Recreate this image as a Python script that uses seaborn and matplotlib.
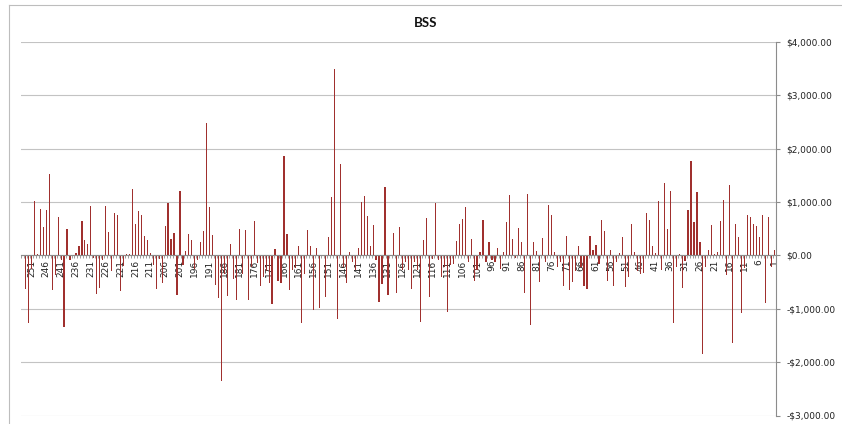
import matplotlib
matplotlib.use("Agg")
import matplotlib.pyplot as plt
from matplotlib.ticker import FuncFormatter, MultipleLocator, FixedLocator
from matplotlib.lines import Line2D
import numpy as np
import pandas as pd
import seaborn as sns

# Periods 1..254 and the BSS value of each period
periods = list(range(1, 255))
bss = [
    95, -210, 722, -887, 760, 344, 553, 597, 722, 760,            # 1-10
    -240, -1087, 344, 597, -1650, 1315, -370, 1035, 650, 56,      # 11-20
    25, 575, 100, -212, -1850, 250, 1194, 625, 1775, 850,         # 21-30
    -100, -619, 25, -212, -1263, 1206, 500, 1350, -275, 1019,     # 31-40
    50, 175, 656, 794, -337, -356, -287, 69, 587, -412,           # 41-50
    -587, 337, 37, -131, -569, 94, -475, 450, 662, -162,          # 51-60
    187, 94, 362, -631, -569, -212, 175, -300, -494, -644,        # 61-70
    362, -569, -119, -212, 62, 756, 937, -131, 325, -494,         # 71-80
    81, 250, -1312, 1150, -700, 250, 512, -56, 312, 1131,         # 81-90
    619, 62, -250, 137, -131, -90, 250, -119, 656, 62,            # 91-100
    -275, -481, 306, -119, 906, 675, 594, 269, -162, -180,        # 101-110
    -1056, -212, -400, -90, 981, -70, -775, 694, 287, -1250,      # 111-120
    -275, -119, -631, -275, -119, -275, 525, -712, 412, 0,        # 121-130
    -744, 1281, -544, -869, -90, 562, 175, 737, 1112, 1000,       # 131-140
    144, -275, -119, 62, -525, -212, 1712, -1188, 3494, 1094,     # 141-150
    344, -775, 0, -994, 131, -1025, 175, 475, -340, -1263,        # 151-160
    175, -231, -275, -644, 400, 1862, -525, -475, 119, -919,      # 161-170
    -525, -300, -400, -569, -150, 650, -210, -844, 475, -340,     # 171-180
    487, -844, -437, 212, -769, -340, -2362, -794, -556, 387,     # 181-190
    900, 2481, 456, 250, -90, -250, 287, 394, 87, -180,           # 191-200
    1206, -750, 420, 312, 975, 550, -525, -70, -637, -180,        # 201-210
    37, 281, 362, 756, 831, 581, 1244, 20, 20, -200,              # 211-220
    -663, 750, 794, -290, 437, 931, -90, -606, -731, -40,         # 221-230
    930, 212, 290, 650, 170, 40, 0, -90, 500, -1350,              # 231-240
    -90, 719, -370, -644, 1525, 850, 538, 869, 20, 1019,          # 241-250
    -250, -1263, -631, 0,                                         # 251-254
]
# Newest period on the right, oldest on the left
period_order = [str(p) for p in reversed(periods)]
labeled_periods = [str(p) for p in range(251, 0, -5)]

df = pd.DataFrame({"period": [str(p) for p in periods], "bss": bss})

W, H = 842, 424
fig = plt.figure(figsize=(W / 100, H / 100), dpi=100)
ax = fig.add_axes([21 / W, 1 - 415.5 / H, (775.7 - 21) / W, (415.5 - 42) / H])

sns.barplot(data=df, x="period", y="bss", order=period_order, color="#A0302E",
            saturation=1, width=0.4, errorbar=None, linewidth=0, ax=ax)

grey = "#8c8c8c"
ax.set_ylim(-3000, 4000)
ax.set_xlim(-0.5, len(periods) - 0.5)
ax.yaxis.set_major_locator(MultipleLocator(1000))
ax.yaxis.tick_right()


def money(v, pos):
    return f"-${abs(v):,.2f}" if v < 0 else f"${v:,.2f}"


ax.yaxis.set_major_formatter(FuncFormatter(money))
ax.grid(axis="y", color="#c3c3c3", lw=0.8)
ax.grid(axis="x", visible=False)
ax.set_axisbelow(True)

for side in ("left", "top"):
    ax.spines[side].set_visible(False)
ax.spines["right"].set_color(grey)
ax.spines["right"].set_linewidth(0.8)
ax.spines["bottom"].set_position(("data", 0))
ax.spines["bottom"].set_color(grey)
ax.spines["bottom"].set_linewidth(0.8)

label_pos = [period_order.index(p) for p in labeled_periods]
ax.xaxis.set_major_locator(FixedLocator(label_pos))
ax.set_xticklabels(labeled_periods, rotation=90)
ax.xaxis.set_minor_locator(FixedLocator(np.arange(-0.5, len(periods), 1.0)))
ax.tick_params(axis="x", which="major", length=0, pad=3, labelsize=6.5, labelcolor="#222222")
ax.tick_params(axis="x", which="minor", length=2.5, width=0.6, color=grey, direction="out")
ax.tick_params(axis="y", which="major", length=3, width=0.8, color=grey, pad=4.5,
               labelsize=6.5, labelcolor="#222222")
for t in ax.get_yticklabels():
    t.set_horizontalalignment("left")
ax.set_xlabel("")
ax.set_ylabel("")

fig.text(426 / W, 1 - 22.7 / H, "BSS", ha="center", va="center",
         fontsize=9.5, fontweight="bold", family=["Lato", "DejaVu Sans"], color="#111111")

# Chart-area border along the top and left edges
fig.add_artist(Line2D([9.3 / W, 9.3 / W], [0, 1 - 4.7 / H], transform=fig.transFigure,
                      color="#bdbdbd", lw=0.8))
fig.add_artist(Line2D([9.3 / W, 1], [1 - 4.7 / H, 1 - 4.7 / H], transform=fig.transFigure,
                      color="#bdbdbd", lw=0.8))

fig.savefig("out.png", dpi=100)
